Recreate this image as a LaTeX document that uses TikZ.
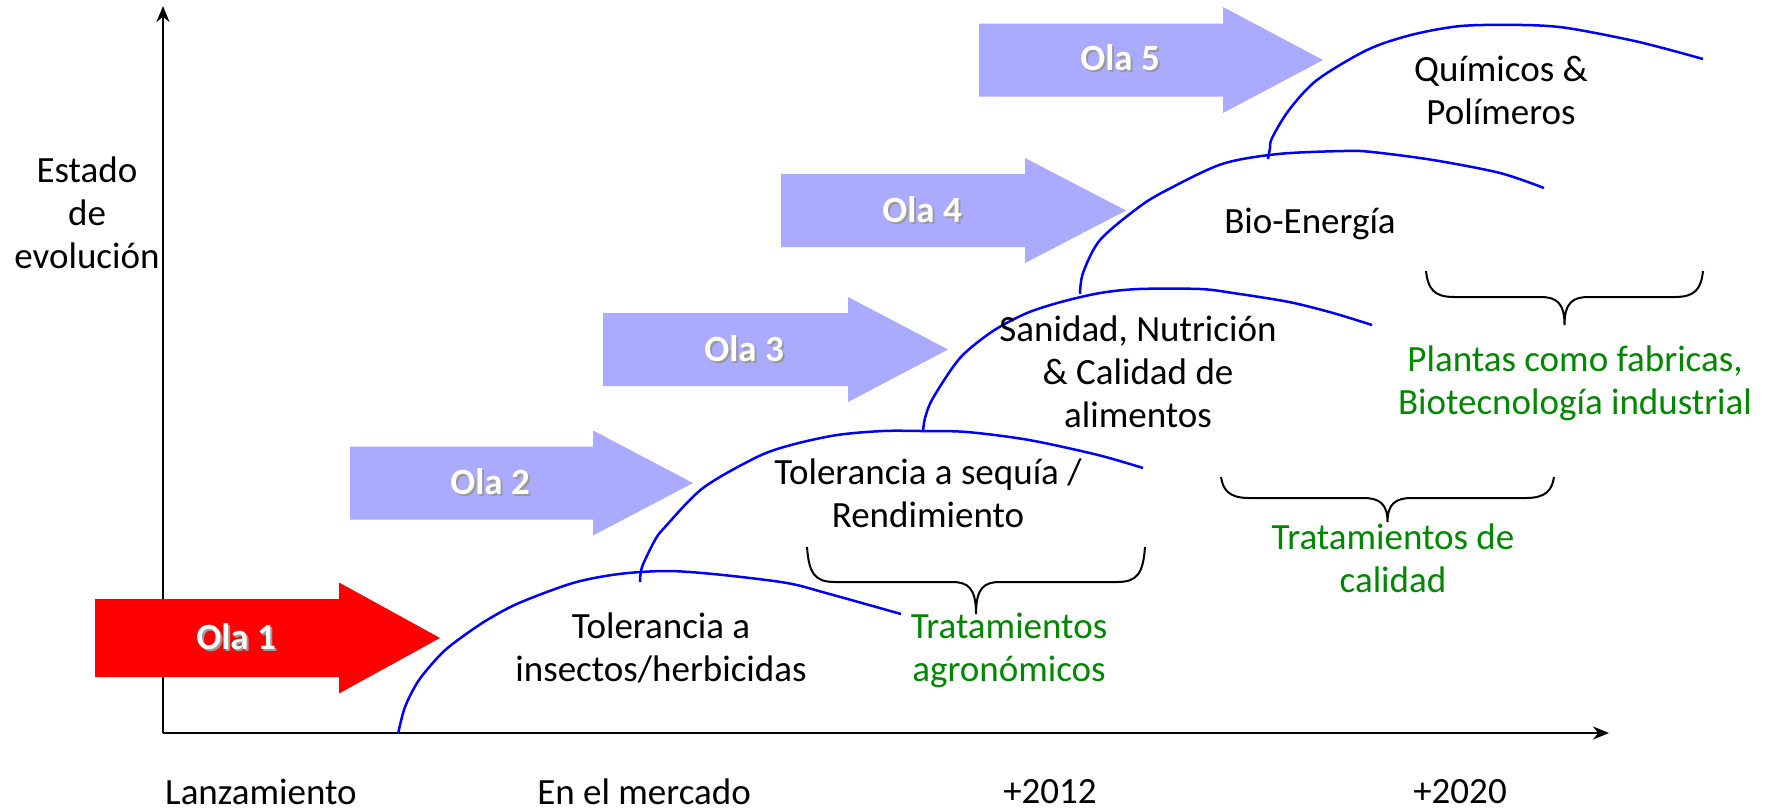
\documentclass[tikz,border=0pt]{standalone}
\usepackage{fontspec}
\setmainfont{Carlito}
\usetikzlibrary{arrows.meta}
\definecolor{wave}{RGB}{170,170,255}
\definecolor{waveone}{RGB}{255,0,0}
\definecolor{curveblue}{RGB}{0,0,255}
\definecolor{labgreen}{RGB}{0,136,0}
\newcommand{\shadowed}[1]{\makebox[0pt][l]{\kern2pt\raisebox{-2pt}{\textcolor{black!40}{#1}}}#1}
\newcommand{\olaarrow}[7]{%
  \fill[#1] (#2,#3-#4) -- (#6,#3-#4) -- (#6,#3-#5) -- (#7,#3) -- (#6,#3+#5) -- (#6,#3+#4) -- (#2,#3+#4) -- cycle;}
\newcommand{\curlybrace}[5]{%
  \draw[bracestyle] (#1,#3) .. controls (#1+2,#4-8) and (#1+8,#4) .. (#1+28,#4)
    -- ({(#1+#2)/2-24},#4) .. controls ({(#1+#2)/2-8},#4) and ({(#1+#2)/2},#4+6) .. ({(#1+#2)/2},#5)
    .. controls ({(#1+#2)/2},#4+6) and ({(#1+#2)/2+8},#4) .. ({(#1+#2)/2+24},#4)
    -- (#2-28,#4) .. controls (#2-8,#4) and (#2-2,#4-8) .. (#2,#3);}
\tikzset{
  txt/.style={font=\fontsize{37}{43}\selectfont, align=center, inner sep=0pt},
  greentxt/.style={txt, text=labgreen},
  olatxt/.style={font=\fontsize{37}{43}\selectfont\bfseries, text=white, inner sep=0pt},
  axis/.style={line width=2.5pt, -{Stealth[length=16pt,width=13pt]}},
  wavecurve/.style={curveblue, line width=2.5pt},
  bracestyle/.style={black, line width=2pt},
}
\begin{document}
\begin{tikzpicture}[x=1pt,y=-1pt]
\useasboundingbox (0,0) rectangle (1771,811);
\fill[white] (0,0) rectangle (1771,811);

% axes
\coordinate (O) at (163,733);
\coordinate (ytop) at (163,6);
\coordinate (xend) at (1609,733);
\draw[axis] (O) -- (ytop);
\draw[axis] (O) -- (xend);

% wave arrows
\olaarrow{waveone}{95}{638}{39}{55.5}{339}{440}
\olaarrow{wave}{350}{483}{36.5}{52.5}{593}{693}
\olaarrow{wave}{603}{349.5}{36.5}{52.5}{848}{948}
\olaarrow{wave}{781}{210.5}{36.5}{52.5}{1025}{1126}
\olaarrow{wave}{979}{60}{36.5}{53}{1223}{1323}
\node[olatxt] (ola1) at (236,638) {\shadowed{Ola 1}};
\node[olatxt] (ola2) at (490,483) {\shadowed{Ola 2}};
\node[olatxt] (ola3) at (744,350) {\shadowed{Ola 3}};
\node[olatxt] (ola4) at (922,211) {\shadowed{Ola 4}};
\node[olatxt] (ola5) at (1120,59) {\shadowed{Ola 5}};

% curves
\draw[wavecurve] plot[smooth, tension=0.5] coordinates {(398,734) (405,707) (419,680) (442,653) (462,637) (487,620) (519,603) (573,583) (619,574) (669,571) (723,575) (787,583) (826,593) (901,614)};
\draw[wavecurve] plot[smooth, tension=0.5] coordinates {(640,582) (642,567) (655,540) (665,527) (703,488) (757,457) (791,445) (837,435) (883,431) (921,431) (967,432) (1029,440) (1098,455) (1143,468)};
\draw[wavecurve] plot[smooth, tension=0.5] coordinates {(923,432) (925,418) (933,398) (960,358) (993,331) (1027,313) (1061,302) (1100,293) (1139,289) (1200,289) (1233,293) (1289,302) (1333,313) (1372,325)};
\draw[wavecurve] plot[smooth, tension=0.5] coordinates {(1080,294) (1083,273) (1100,240) (1139,207) (1167,190) (1222,164) (1278,154) (1344,151) (1372,152) (1433,160) (1500,173) (1544,188)};
\draw[wavecurve] plot[smooth, tension=0.5] coordinates {(1268,159) (1270,148) (1272,138) (1289,110) (1317,80) (1367,50) (1411,35) (1461,26) (1522,25) (1567,28) (1639,42) (1703,59)};

% braces
\curlybrace{807}{1145}{547}{582}{614}
\curlybrace{1221}{1554}{477}{498}{522}
\curlybrace{1426}{1703}{271}{297}{325}

% labels
\node[txt] (estado) at (87,213) {Estado\\de\\evolución};
\node[txt] (lanz) at (261,792) {Lanzamiento};
\node[txt] (merc) at (644,792) {En el mercado};
\node[txt] (y2012) at (1050,792) {+2012};
\node[txt] (y2020) at (1460,792) {+2020};

\node[txt] (t1) at (661,648) {Tolerancia a\\insectos/herbicidas};
\node[txt] (t2) at (928,493) {Tolerancia a sequía /\\Rendimiento};
\node[txt] (t3) at (1138,372) {Sanidad, Nutrición\\\& Calidad de\\alimentos};
\node[txt] (t4) at (1310,224) {Bio-Energía};
\node[txt] (t5) at (1501,90) {Químicos \&\\Polímeros};

\node[greentxt] (g1) at (1009,650) {Tratamientos\\agronómicos};
\node[greentxt] (g2) at (1393,558) {Tratamientos de\\calidad};
\node[greentxt] (g3) at (1575,383) {Plantas como fabricas,\\Biotecnología industrial};
\end{tikzpicture}
\end{document}
